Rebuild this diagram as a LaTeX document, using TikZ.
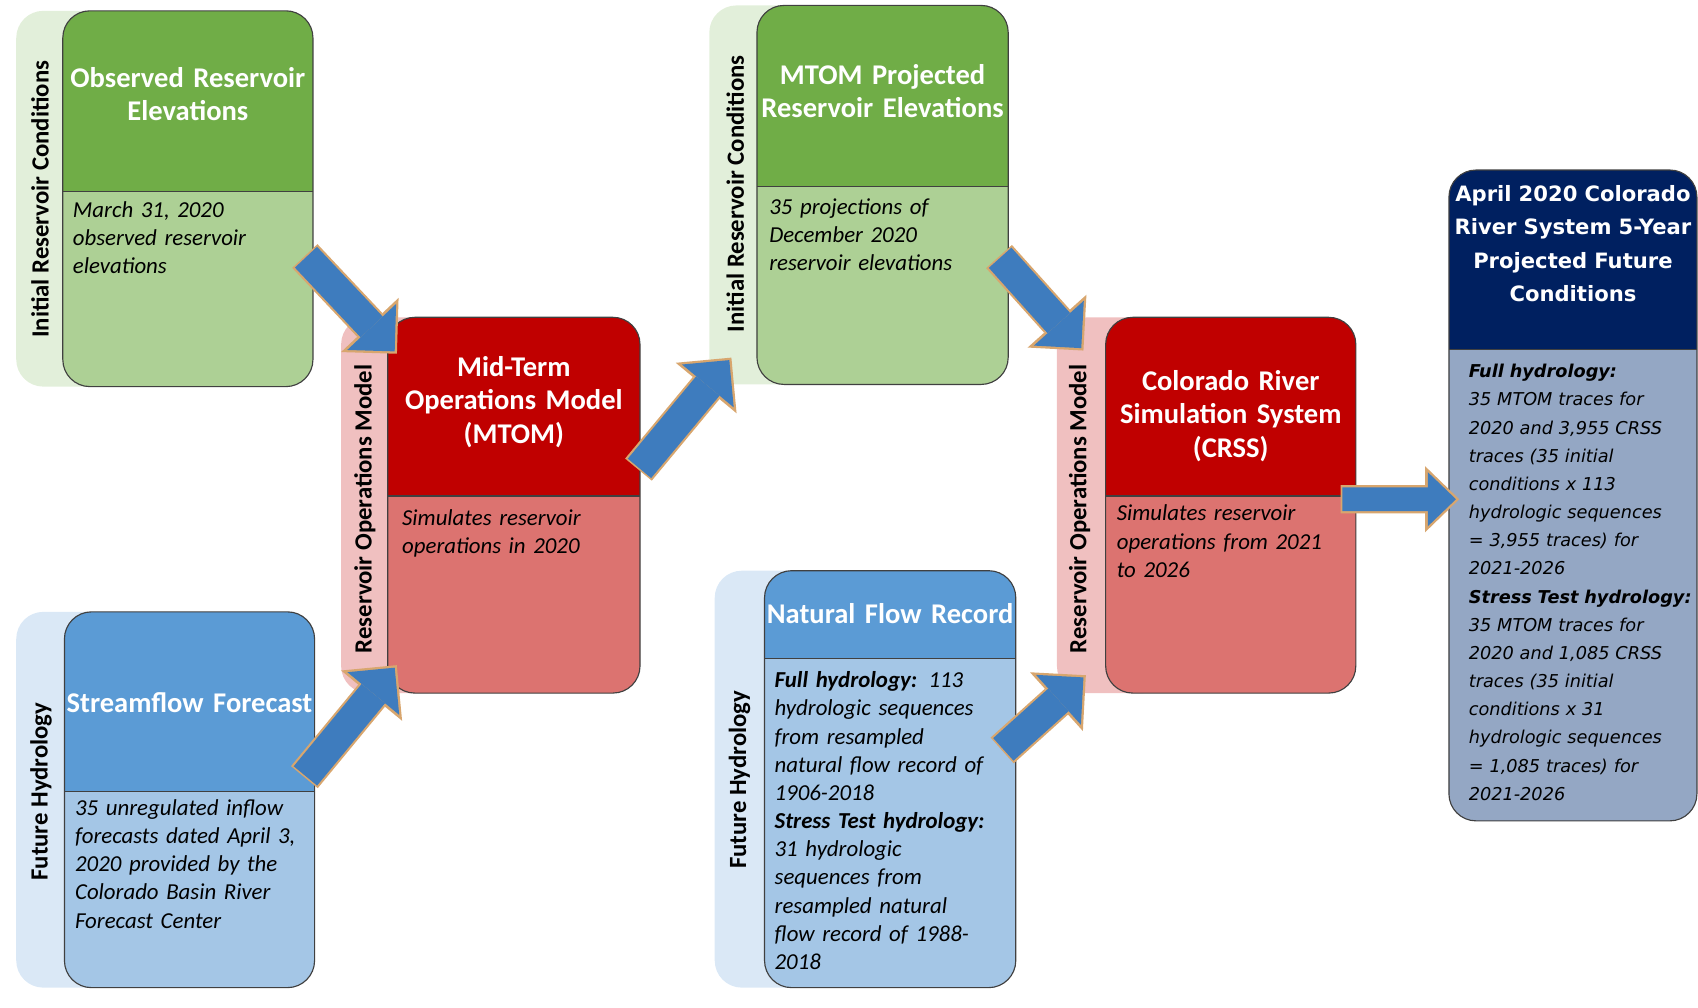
\documentclass[tikz,border=0pt]{standalone}
\usepackage{fontspec}
\setmainfont{Carlito}
\newfontfamily\widefont{DejaVu Sans}
\usepackage{tikz}
\usetikzlibrary{arrows.meta,calc}
\pgfdeclarelayer{bg}
\pgfsetlayers{bg,main}

\definecolor{headgreen}{RGB}{112,173,71}
\definecolor{bodygreen}{RGB}{173,208,149}
\definecolor{bandgreen}{RGB}{226,239,218}
\definecolor{headblue}{RGB}{91,155,213}
\definecolor{bodyblue}{RGB}{164,198,230}
\definecolor{bandblue}{RGB}{218,232,246}
\definecolor{headred}{RGB}{192,0,0}
\definecolor{bodyred}{RGB}{220,115,112}
\definecolor{bandred}{RGB}{240,192,192}
\definecolor{headnavy}{RGB}{0,32,96}
\definecolor{bodyslate}{RGB}{148,167,196}
\definecolor{arrowblue}{RGB}{62,124,190}
\definecolor{arrowedge}{RGB}{216,166,110}

\tikzset{
  stage/.style n args={3}{draw=black!75, line width=0.6pt, rounded corners=5mm,
    minimum width=46.2mm, inner sep=0pt, fill=#2,
    path picture={
      \fill[#1, sharp corners] (path picture bounding box.north west) rectangle ([yshift=-#3]path picture bounding box.north east);
      \draw[black!75, line width=0.6pt, sharp corners] ([yshift=-#3]path picture bounding box.north west) -- ([yshift=-#3]path picture bounding box.north east);
    }},
  band/.style={rounded corners=5mm},
  title/.style={text=white, font=\bfseries\fontsize{15}{17.6}\selectfont, align=center, text width=46mm, inner sep=0pt},
  note/.style={font=\itshape\fontsize{12}{14.8}\selectfont, align=left, text width=45mm, inner sep=0pt, anchor=north west},
  side/.style={font=\bfseries\fontsize{13}{15}\selectfont, rotate=90, inner sep=0pt},
  flow/.style n args={6}{arrowblue, line width=#1, -{Triangle[width=#2, length=#3, line width=0pt]},
    preaction={draw=arrowedge, line width=#4, -{Triangle[width=#5, length=#6, line width=0pt]},
      shorten <=-0.3mm, shorten >=-0.6mm}},
  bigflow/.style={flow={5.6mm}{12.4mm}{6.2mm}{6.4mm}{14.6mm}{7.3mm}},
  smallflow/.style={flow={4.4mm}{10mm}{5.2mm}{5.2mm}{12.2mm}{6.3mm}}
}

\begin{document}
\begin{tikzpicture}[x=0.2mm, y=-0.2mm]
    \useasboundingbox (0,0) rectangle (1568,930);

    % stage boxes
    \node[stage={headgreen}{bodygreen}{33.4mm}, minimum height=69.4mm] (observed) at (173.5,183.5) {};
    \node[stage={headblue}{bodyblue}{33.2mm}, minimum height=69.4mm] (stream) at (175,738.5) {};
    \node[stage={headred}{bodyred}{33mm}, minimum width=46.6mm, minimum height=69.4mm] (mtom) at (474.5,466.5) {};
    \node[stage={headgreen}{bodygreen}{33.4mm}, minimum width=46.4mm, minimum height=70mm] (projected) at (815,180) {};
    \node[stage={headblue}{bodyblue}{16.2mm}, minimum width=46.4mm, minimum height=77mm] (natflow) at (822,719.5) {};
    \node[stage={headred}{bodyred}{33mm}, minimum height=69.4mm] (crss) at (1136.5,466.5) {};
    \node[stage={headnavy}{bodyslate}{33.2mm}, minimum width=45.8mm, minimum height=120.2mm] (outlook) at (1452.5,457.5) {};

    \begin{pgfonlayer}{bg}    % bands behind the boxes
        \fill[bandgreen, band] (15,10) rectangle (150,357);
        \fill[bandblue, band] (15,565) rectangle (150,912);
        \fill[bandred, band] (315,293) rectangle (420,640);
        \fill[bandgreen, band] (655,5) rectangle (790,355);
        \fill[bandblue, band] (660,527) rectangle (790,912);
        \fill[bandred, band] (976,293) rectangle (1080,640);
    \end{pgfonlayer}

    \node[side] (observedside) at (37,184) {Initial Reservoir Conditions};
    \node[side] (streamside) at (38,731) {Future Hydrology};
    \node[side] (mtomside) at (337,470) {Reservoir Operations Model};
    \node[side] (projectedside) at (679,179) {Initial Reservoir Conditions};
    \node[side] (natflowside) at (683,720) {Future Hydrology};
    \node[side] (crssside) at (997,470) {Reservoir Operations Model};

    \node[title] (observedtitle) at (173.5,87) {Observed Reservoir\\Elevations};
    \node[title] (streamtitle) at (175,649) {Streamflow Forecast};
    \node[title] (mtomtitle) at (474.5,371) {Mid-Term\\Operations Model\\(MTOM)};
    \node[title] (projectedtitle) at (815,84) {MTOM Projected\\Reservoir Elevations};
    \node[title] (natflowtitle) at (822,567) {Natural Flow Record};
    \node[title] (crsstitle) at (1136.5,384) {Colorado River\\Simulation System\\(CRSS)};
    \node[title, font=\widefont\bfseries\fontsize{11.1}{17.6}\selectfont] (outlooktitle) at (1452.5,225)
        {April 2020 Colorado\\River System 5-Year\\Projected Future\\Conditions};

    \node[note] (observednote) at (67,186) {March 31, 2020\\observed reservoir\\elevations};
    \node[note] (streamnote) at (69,738) {35 unregulated inflow\\forecasts dated April 3,\\2020 provided by the\\Colorado Basin River\\Forecast Center};
    \node[note] (mtomnote) at (371,470) {Simulates reservoir\\operations in 2020};
    \node[note] (projectednote) at (710,183) {35 projections of\\December 2020\\reservoir elevations};
    \node[note] (natflownote) at (715,620) {\textbf{Full hydrology:} 113\\hydrologic sequences\\from resampled\\natural flow record of\\1906-2018\\\textbf{Stress Test hydrology:}\\31 hydrologic\\sequences from\\resampled natural\\flow record of 1988-\\2018};
    \node[note] (crssnote) at (1031,466) {Simulates reservoir\\operations from 2021\\to 2026};
    \node[note, font=\widefont\itshape\fontsize{9.3}{14.8}\selectfont, text width=46mm] (outlooknote) at (1356,336)
        {\textbf{Full hydrology:}\\35 MTOM traces for\\2020 and 3,955 CRSS\\traces (35 initial\\conditions x 113\\hydrologic sequences\\= 3,955 traces) for\\2021-2026\\\textbf{Stress Test hydrology:}\\35 MTOM traces for\\2020 and 1,085 CRSS\\traces (35 initial\\conditions x 31\\hydrologic sequences\\= 1,085 traces) for\\2021-2026};

    % block arrows
    \draw[bigflow] ([shift={(-7,54)}]observed.east) -- ([shift={(7,32)}]mtom.north west);
    \draw[bigflow] ([shift={(-9,-22)}]stream.east) -- ([shift={(7,-24)}]mtom.south west);
    \draw[bigflow] ([shift={(-1,-34)}]mtom.east) -- ([shift={(-25,-23)}]projected.south west);
    \draw[bigflow] ([shift={(-8,58)}]projected.east) -- ([shift={(-22,29)}]crss.north west);
    \draw[bigflow] ([shift={(-12,-27.5)}]natflow.east) -- ([shift={(-20,-15)}]crss.south west);
    \draw[smallflow] ([shift={(-13,-5.5)}]crss.east) -- ([shift={(7,3.5)}]outlook.west);
\end{tikzpicture}
\end{document}
